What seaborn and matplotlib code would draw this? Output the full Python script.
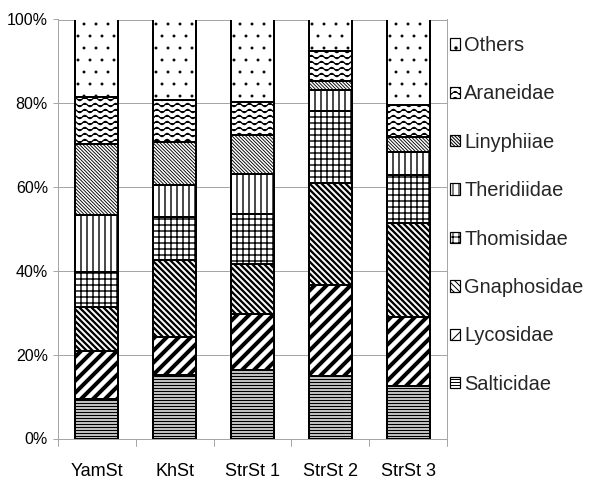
import numpy as np
import pandas as pd
import matplotlib
matplotlib.use('Agg')
import matplotlib.pyplot as plt
import matplotlib.patches as mpatches
from matplotlib import hatch as mhatch
from matplotlib.path import Path
import seaborn as sns

# sites along the x axis
sites = ['YamSt', 'KhSt', 'StrSt 1', 'StrSt 2', 'StrSt 3']

# share of each family per site (%), bottom of the stack first
salticidae = [9.5, 15.1, 16.4, 14.9, 12.5]
lycosidae = [11.3, 9.2, 13.3, 21.8, 16.6]
gnaphosidae = [10.6, 18.3, 12.0, 24.2, 22.3]
thomisidae = [8.3, 10.3, 11.9, 17.2, 11.5]
theridiidae = [13.6, 7.7, 9.6, 5.0, 5.5]
linyphiiae = [17.0, 10.1, 9.3, 2.2, 3.5]
araneidae = [11.3, 10.0, 7.8, 7.3, 7.8]
others = [18.4, 19.3, 19.7, 7.4, 20.3]

families = ['Salticidae', 'Lycosidae', 'Gnaphosidae', 'Thomisidae',
            'Theridiidae', 'Linyphiiae', 'Araneidae', 'Others']
shares = [salticidae, lycosidae, gnaphosidae, thomisidae,
          theridiidae, linyphiiae, araneidae, others]
yticks = [0, 20, 40, 60, 80, 100]

# hatch pattern and hatch line width per family
hatches = ['----', '//', '\\' * 4, '++', '||', '\\' * 7, 'OO', '.']
hatch_lws = [1.5, 4.0, 2.3, 1.4, 1.4, 0.9, 1.3, 0.4]


class WaveHatch(mhatch.HatchPatternBase):
    """Wavy horizontal lines, used in place of the large-circle 'O' hatch."""

    def __init__(self, hatch, density):
        self.num_lines = int(hatch.count('O') * density)
        self.n_pts = 120
        self.num_vertices = self.num_lines * self.n_pts

    def set_vertices_and_codes(self, vertices, codes):
        n = self.n_pts
        x = np.linspace(0.0, 1.0, n)
        wave = 0.022 * np.sin(2 * np.pi * 7 * x)
        steps, step = np.linspace(0.0, 1.0, self.num_lines, False, retstep=True)
        for i, s in enumerate(steps + step / 2):
            vertices[i * n:(i + 1) * n, 0] = x
            vertices[i * n:(i + 1) * n, 1] = s + wave
        codes[:] = Path.LINETO
        codes[::n] = Path.MOVETO


mhatch._hatch_types = [WaveHatch if t is mhatch.LargeCircles else t
                       for t in mhatch._hatch_types]

sns.set_theme(style='white')
plt.rcParams['font.family'] = ['Liberation Sans', 'DejaVu Sans']
plt.rcParams['axes.grid'] = False

rows = []
for fam, vals in zip(families, shares):
    for site, v in zip(sites, vals):
        rows.append({'site': site, 'family': fam, 'share': v})
df = pd.DataFrame(rows)
df['cum'] = df.groupby('site', sort=False)['share'].cumsum()

fig = plt.figure(figsize=(598 / 72, 479 / 72), dpi=72)
ax = fig.add_axes([58 / 598, 1 - 438.5 / 479, 389 / 598, 419 / 479])

# stacked bars: draw cumulative totals from the top family down
for i in reversed(range(len(families))):
    layer = df[df['family'] == families[i]]
    n_before = len(ax.patches)
    with plt.rc_context({'hatch.linewidth': hatch_lws[i]}):
        sns.barplot(data=layer, x='site', y='cum', order=sites, color='white',
                    saturation=1, width=0.553, edgecolor='black', linewidth=2,
                    errorbar=None, ax=ax, zorder=3)
    for p in ax.patches[n_before:]:
        p.set_facecolor('white')
        p.set_hatch(hatches[i])
        if hasattr(p, 'set_hatch_linewidth'):
            p.set_hatch_linewidth(hatch_lws[i])

ax.set_xlim(-0.5, len(sites) - 0.5)
ax.set_ylim(0, 100)
ax.set_yticks(yticks)
ax.set_yticklabels([f'{v}%' for v in yticks])
ax.set_xlabel('')
ax.set_ylabel('')
for s in ax.spines.values():
    s.set_color('#a6a6a6')
    s.set_linewidth(1)
ax.tick_params(axis='x', which='major', length=0, pad=24, labelsize=18, labelcolor='black')
ax.tick_params(axis='y', length=5, width=1, color='#a6a6a6', direction='out', left=True,
               pad=5, labelsize=16, labelcolor='black')
# horizontal grid only, behind the bars
ax.grid(False, which='both')
for v in yticks:
    ax.axhline(v, color='#a6a6a6', lw=1, zorder=1)
# short tick marks between the categories, below the x axis
for xb in np.arange(-0.5, len(sites)):
    ax.plot([xb, xb], [-0.017, 0], transform=ax.get_xaxis_transform(),
            color='#a6a6a6', lw=1, clip_on=False, zorder=1)

handles = []
for i in reversed(range(len(families))):
    with plt.rc_context({'hatch.linewidth': min(hatch_lws[i], 1.2)}):
        h = mpatches.Patch(facecolor='white', edgecolor='black', lw=1.2,
                           hatch=hatches[i], label=families[i])
    handles.append(h)
fig.legend(handles=handles, loc='upper left', bbox_to_anchor=(450 / 598, 1 - 36 / 479),
           frameon=False, fontsize=20, labelspacing=1.47, handlelength=0.5,
           handleheight=0.5, handletextpad=0.2, borderpad=0, borderaxespad=0)

ax.xaxis.grid(False, which='both')
fig.savefig('out.png', dpi=72)
